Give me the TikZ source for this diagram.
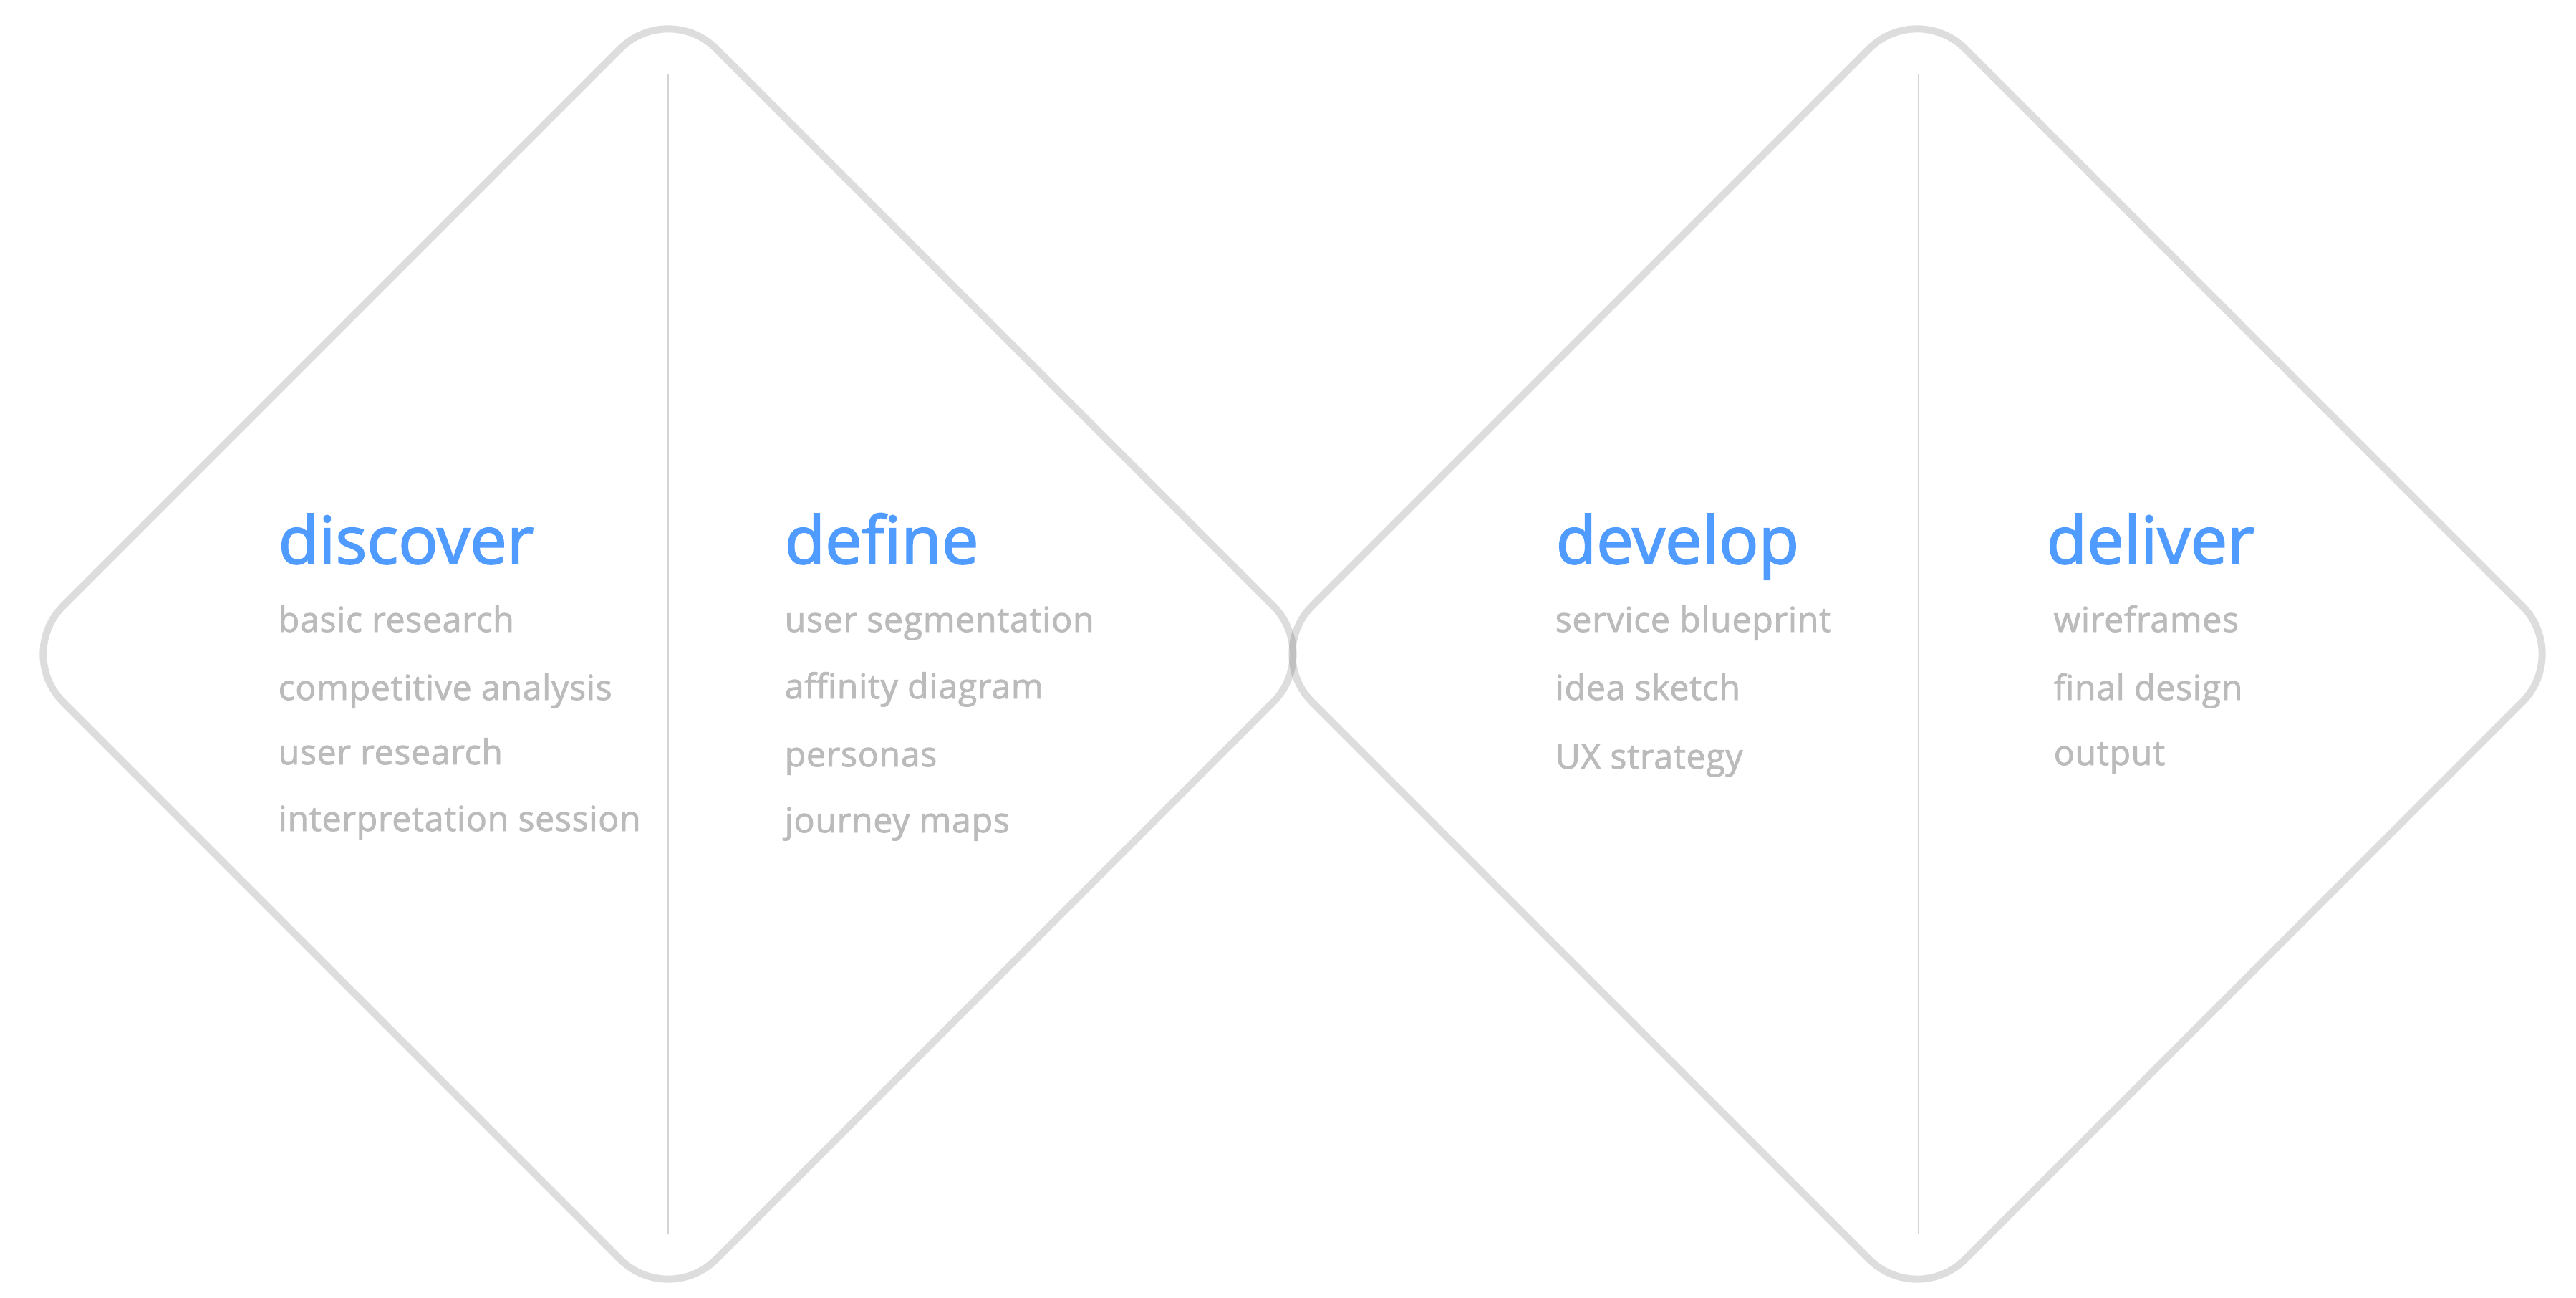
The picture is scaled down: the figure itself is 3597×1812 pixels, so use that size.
\documentclass[tikz,border=0pt]{standalone}
\usepackage{fontspec}
\setmainfont{Open Sans}
\newfontfamily\phasefont{Open Sans}[FakeBold=2]
\newfontfamily\itemfont{Open Sans}[FakeBold=1.8, LetterSpace=1.5]
\definecolor{phaseblue}{RGB}{79,155,255}
\definecolor{itemgray}{RGB}{187,187,187}
\definecolor{splitgray}{RGB}{212,212,212}

\begin{document}
\begin{tikzpicture}[x=0.1mm, y=-0.1mm,
        frame/.style={draw=black, draw opacity=0.135, line width=1mm, rounded corners=9.5mm},
        split/.style={draw=splitgray, line width=0.25mm},
        phase/.style={anchor=base west, inner sep=0pt, text=phaseblue, font=\phasefont\fontsize{26.2pt}{30pt}\selectfont},
        item/.style={anchor=base west, inner sep=0pt, text=itemgray, font=\itemfont\fontsize{13.7pt}{16pt}\selectfont}]
            \useasboundingbox (0,0) rectangle (3597,1812);
            \coordinate (M1) at (933,913);
            \coordinate (M2) at (2677,913);
            \draw[frame] (M1) ++(0,-912) -- ++(912,912) -- ++(-912,912) -- ++(-912,-912) -- cycle;
            \draw[frame] (M2) ++(0,-912) -- ++(912,912) -- ++(-912,912) -- ++(-912,-912) -- cycle;
            \coordinate (T1) at (933,103);
            \coordinate (B1) at (933,1723);
            \coordinate (T2) at (2679,103);
            \coordinate (B2) at (2679,1723);
            \draw[split] (T1) -- (B1);
            \draw[split] (T2) -- (B2);
            \node[phase] (discover) at (388,787) {discover};
            \node[item] (D1) at (388,882) {basic research};
            \node[item] (D2) at (388,977) {competitive analysis};
            \node[item] (D3) at (388,1067) {user research};
            \node[item] (D4) at (388,1160) {interpretation session};
            \node[phase] (define) at (1095,787) {define};
            \node[item] (F1) at (1095,882) {user segmentation};
            \node[item] (F2) at (1095,975) {affinity diagram};
            \node[item] (F3) at (1095,1070) {personas};
            \node[item] (F4) at (1095,1162) {journey maps};
            \node[phase] (develop) at (2172,787) {develop};
            \node[item] (V1) at (2171,882) {service blueprint};
            \node[item] (V2) at (2171,977) {idea sketch};
            \node[item] (V3) at (2171,1073) {UX strategy};
            \node[phase] (deliver) at (2857,787) {deliver};
            \node[item] (L1) at (2867,882) {wireframes};
            \node[item] (L2) at (2867,977) {final design};
            \node[item] (L3) at (2867,1068) {output};
        \end{tikzpicture}
\end{document}
